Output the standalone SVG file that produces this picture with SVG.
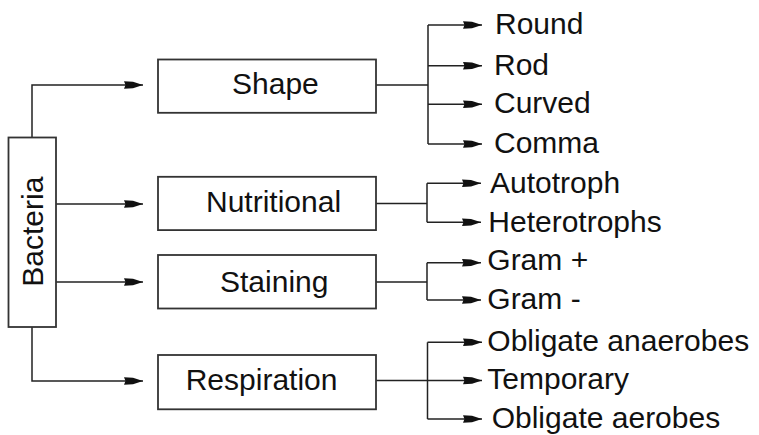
<svg xmlns="http://www.w3.org/2000/svg" width="759" height="435" viewBox="0 0 759 435">
<style>
  .box{fill:#fff;stroke:#333;stroke-width:1.8}
  .lbl{font-family:"Liberation Sans",Arial,Helvetica,sans-serif;font-size:30px;fill:#111}
  .ln{fill:none;stroke:#222;stroke-width:1.5}
  .arr{marker-end:url(#ah)}
</style>
<defs>
  <marker id="ah" markerUnits="userSpaceOnUse" markerWidth="22" markerHeight="12" refX="19" refY="6" orient="auto" viewBox="0 0 22 12">
    <path d="M0,2.2 L9,2.8 L19,6 L9,9.2 L0,9.8 L1.5,6 Z" fill="#111"/>
  </marker>
</defs>
<rect width="759" height="435" fill="#fff"/>
<g id="connectors">
  <path class="ln arr" d="M32,137.5 V85 H143"/>
  <path class="ln arr" d="M56,204 H143"/>
  <path class="ln arr" d="M56,282 H143"/>
  <path class="ln arr" d="M32,327 V381 H143"/>
  <path class="ln" d="M376,85 H428 M428,25 V144"/>
  <path class="ln arr" d="M428,25 H482"/>
  <path class="ln arr" d="M428,65.7 H482"/>
  <path class="ln arr" d="M428,104.3 H482"/>
  <path class="ln arr" d="M428,144 H482"/>
  <path class="ln" d="M376,203.5 H427 M427,183.3 V222.3"/>
  <path class="ln arr" d="M427,183.3 H481"/>
  <path class="ln arr" d="M427,222.3 H481"/>
  <path class="ln" d="M376,282 H427 M427,262.7 V300"/>
  <path class="ln arr" d="M427,262.7 H481"/>
  <path class="ln arr" d="M427,300 H481"/>
  <path class="ln" d="M427.5,342.3 V419"/>
  <path class="ln arr" d="M376,380.5 H482"/>
  <path class="ln arr" d="M427.5,342.3 H482"/>
  <path class="ln arr" d="M427.5,419 H482"/>
</g>
<g id="bacteria">
  <rect class="box" x="8.5" y="137.5" width="47.5" height="189.5"/>
  <text class="lbl" text-anchor="middle" transform="translate(43.3,231.7) rotate(-90)">Bacteria</text>
</g>
<g id="shape">
  <rect class="box" x="158" y="59.5" width="218" height="53.3"/>
  <text class="lbl" x="232" y="94.3">Shape</text>
</g>
<g id="nutritional">
  <rect class="box" x="158" y="176.8" width="218" height="53.3"/>
  <text class="lbl" x="206" y="211.5">Nutritional</text>
</g>
<g id="staining">
  <rect class="box" x="158" y="255" width="218" height="53.5"/>
  <text class="lbl" x="220" y="291.7">Staining</text>
</g>
<g id="respiration">
  <rect class="box" x="158" y="355" width="218" height="54.3"/>
  <text class="lbl" x="185.7" y="390">Respiration</text>
</g>
<g id="round"><text class="lbl" x="495" y="34">Round</text></g>
<g id="rod"><text class="lbl" x="494" y="74.5">Rod</text></g>
<g id="curved"><text class="lbl" x="494" y="113.3">Curved</text></g>
<g id="comma"><text class="lbl" x="494" y="153">Comma</text></g>
<g id="autotroph"><text class="lbl" x="490" y="193">Autotroph</text></g>
<g id="heterotrophs"><text class="lbl" x="488.3" y="231.5">Heterotrophs</text></g>
<g id="gram-pos"><text class="lbl" x="487.3" y="270">Gram +</text></g>
<g id="gram-neg"><text class="lbl" x="487.3" y="309">Gram -</text></g>
<g id="obligate-anaerobes"><text class="lbl" x="487.3" y="351">Obligate anaerobes</text></g>
<g id="temporary"><text class="lbl" x="487.3" y="389">Temporary</text></g>
<g id="obligate-aerobes"><text class="lbl" x="491.7" y="428">Obligate aerobes</text></g>
</svg>
